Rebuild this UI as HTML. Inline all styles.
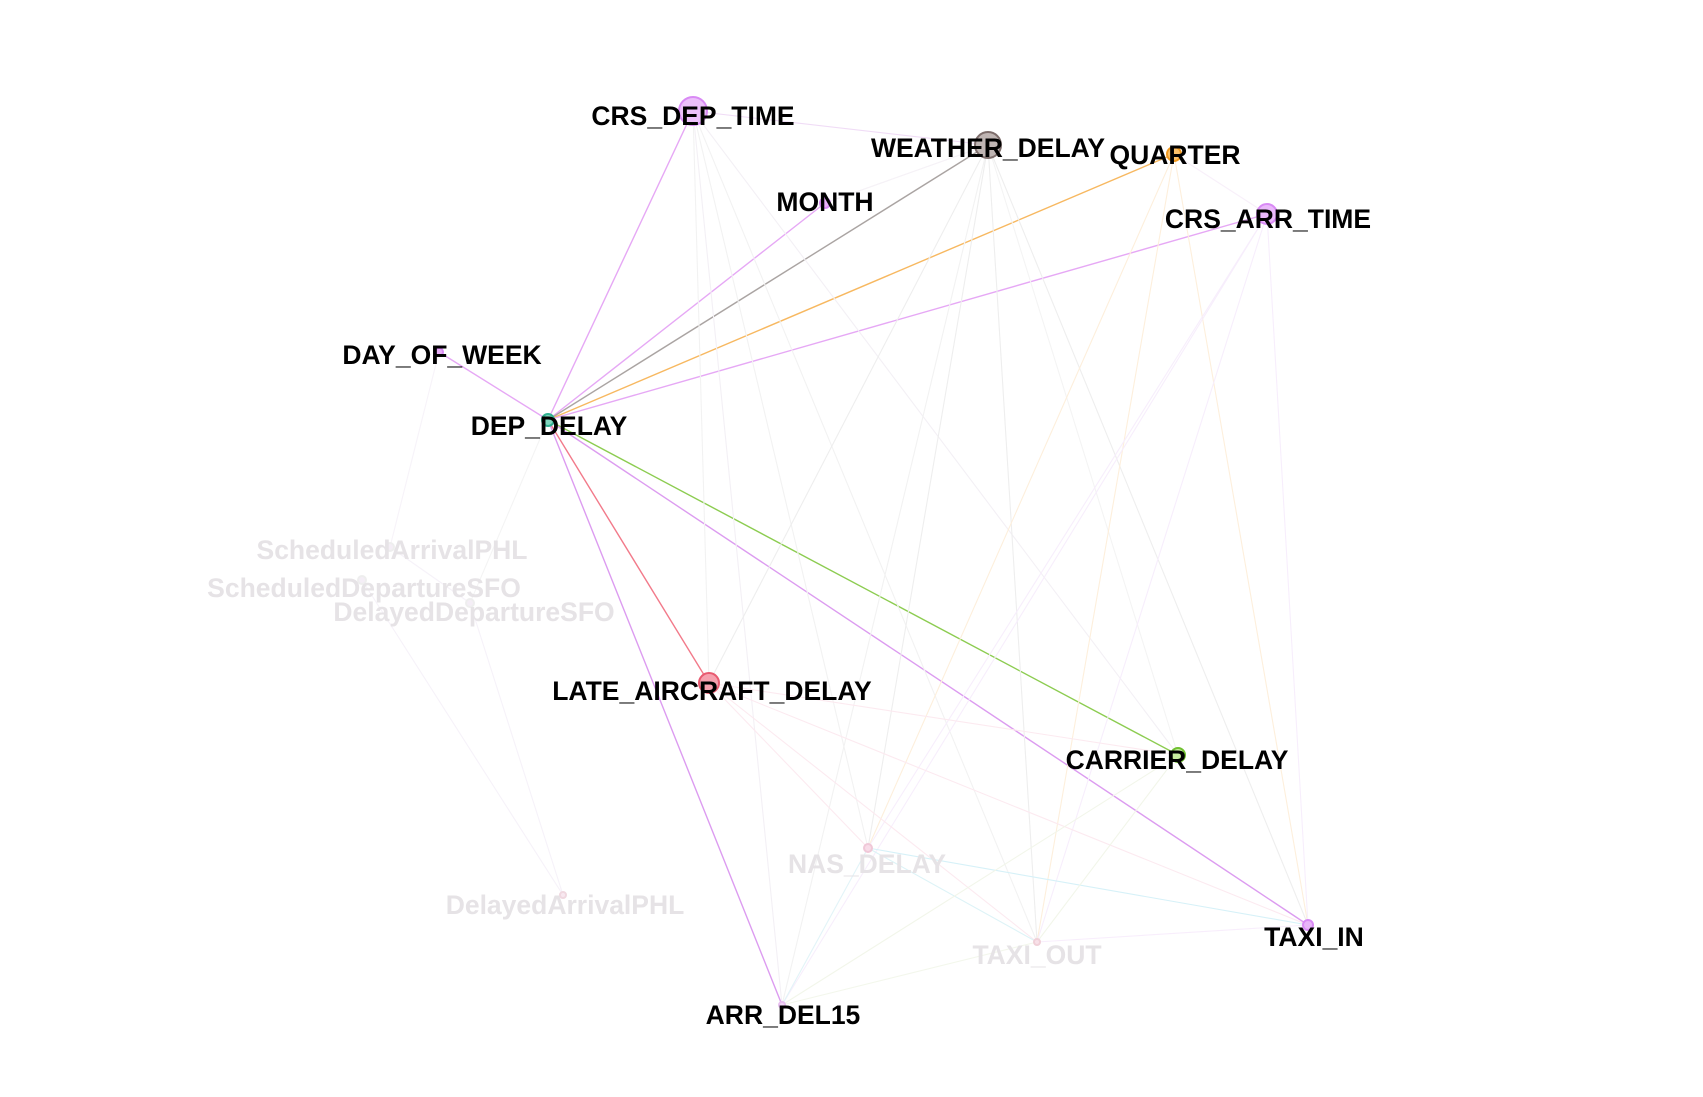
<!DOCTYPE html>
<html><head><meta charset="utf-8"><style>
html,body{margin:0;padding:0;background:#fff;}
svg{display:block;}
text{font-family:"Liberation Sans",sans-serif;font-weight:bold;font-size:26.5px;text-anchor:middle;dominant-baseline:central;}
</style></head><body>
<svg id="g" width="1703" height="1097" viewBox="0 0 1703 1097">
<g id="edges"></g>
<g id="nodes"></g>
<g id="labels"></g>
</svg>
<script>
const nodeNames = ["CRS_DEP_TIME","WEATHER_DELAY","QUARTER","MONTH","CRS_ARR_TIME","DAY_OF_WEEK","DEP_DELAY","ScheduledArrivalPHL","ScheduledDepartureSFO","DelayedDepartureSFO","LATE_AIRCRAFT_DELAY","CARRIER_DELAY","NAS_DELAY","DelayedArrivalPHL","TAXI_OUT","TAXI_IN","ARR_DEL15"];
const nodeX = [693,988,1174,825,1267,439,548,390,362,470,709,1178,868,563,1037,1308,782];
const nodeY = [111,145,154,203,214,352,420,547,580,603,683,755,848,895,942,925,1005];
const nodeR = [14,13,7,5,10,4,6,4,4,4,10,7,4,3,3,5,3];
const nodeFill = ["#ecc0fa","#bfb5b3","#fbc16a","#e9b0f8","#eab8fa","#e9b0f8","#7fd6be","#f4eef6","#f4eef6","#f4eef6","#f6a0ae","#c8eea0","#f8dbe8","#f8e8f0","#f8e0e8","#e8b4f8","#f4d8f8"];
const nodeStroke = ["#d98af5","#7d6d6b","#f29a20","#d98af5","#d98af5","#d98af5","#30b090","#eee","#eee","#eee","#e85a70","#70c030","#f0c8d8","#f0d8e0","#f0d0d8","#d98af5","#e8c0f0"];
const labelX = [693,988,1175,825,1268,442,549,392,364,474,712,1177,867,565,1037,1314,783];
const labelY = [116,148,155,202,219,355,426,550,588,612,691,760,864,905,955,937,1015];
const faded = [0,0,0,0,0,0,0,1,1,1,0,0,1,1,1,0,0];
const edgeSrc = [6,6,6,6,6,6,6,6,6,6, 0,0,0,0,0,0, 1,1,1,1,1,1,1, 2,2,2,2, 4,4,4,4, 10,10,10,10,12,12,12,14,7,8,9,9,3,11,11,16,5];
const edgeDst = [0,3,1,2,4,5,10,11,15,16, 1,12,14,10,16,11, 12,14,15,16,10,3,11, 14,12,15,4, 12,14,16,15, 15,14,11,12,14,15,16,15,9,13,13,6,1,14,16,14,7];
const edgeCol = ["#e6a8f5","#e6a8f5","#aaa4a2","#f7b860","#e6a8f5","#e6a8f5","#f27a8a","#8ccc50","#dc9cf0","#dc9cf0",
"#f0dcf6","#f2f2f2","#f2f2f2","#f2f2f2","#f3f0f5","#f3f0f5",
"#eeeeee","#eeeeee","#eeeeee","#f2f2f2","#eeeeee","#f4f4f4","#f4f4f4",
"#fdefdc","#fdefdc","#fdefdc","#f8f0fa",
"#f7eefc","#f7eefc","#f7eefc","#f7eefc",
"#fceaf0","#fceaf0","#fceaf0","#fceaf0","#ddf3f7","#d6f1f8","#e2f4f8","#f8eefc","#f6f2f9","#f6f2f9","#f6f2f9","#f4f4f4","#f6f2f7","#f2f6ea","#f2f6ea","#f3f7ec","#f7f3f9"];
const eg=document.getElementById('edges'), ng=document.getElementById('nodes'), lg=document.getElementById('labels');
const NS="http://www.w3.org/2000/svg";
for(let i=0;i<edgeSrc.length;i++){
  const l=document.createElementNS(NS,'line');
  l.setAttribute('x1',nodeX[edgeSrc[i]]);l.setAttribute('y1',nodeY[edgeSrc[i]]);
  l.setAttribute('x2',nodeX[edgeDst[i]]);l.setAttribute('y2',nodeY[edgeDst[i]]);
  l.setAttribute('stroke',edgeCol[i]);l.setAttribute('stroke-width',i<10?1.4:1.1);
  
  
  eg.appendChild(l);
}
for(let i=0;i<nodeNames.length;i++){
  const c=document.createElementNS(NS,'circle');
  c.setAttribute('cx',nodeX[i]);c.setAttribute('cy',nodeY[i]);c.setAttribute('r',nodeR[i]);
  c.setAttribute('fill',nodeFill[i]);c.setAttribute('stroke',nodeStroke[i]);c.setAttribute('stroke-width',2);
  
  
  ng.appendChild(c);
  const t=document.createElementNS(NS,'text');
  t.setAttribute('x',labelX[i]);t.setAttribute('y',labelY[i]);
  t.setAttribute('fill',faded[i]?'#e6e3e6':'#000');
  t.textContent=nodeNames[i];
  
  
  lg.appendChild(t);
}
</script>
</body></html>
